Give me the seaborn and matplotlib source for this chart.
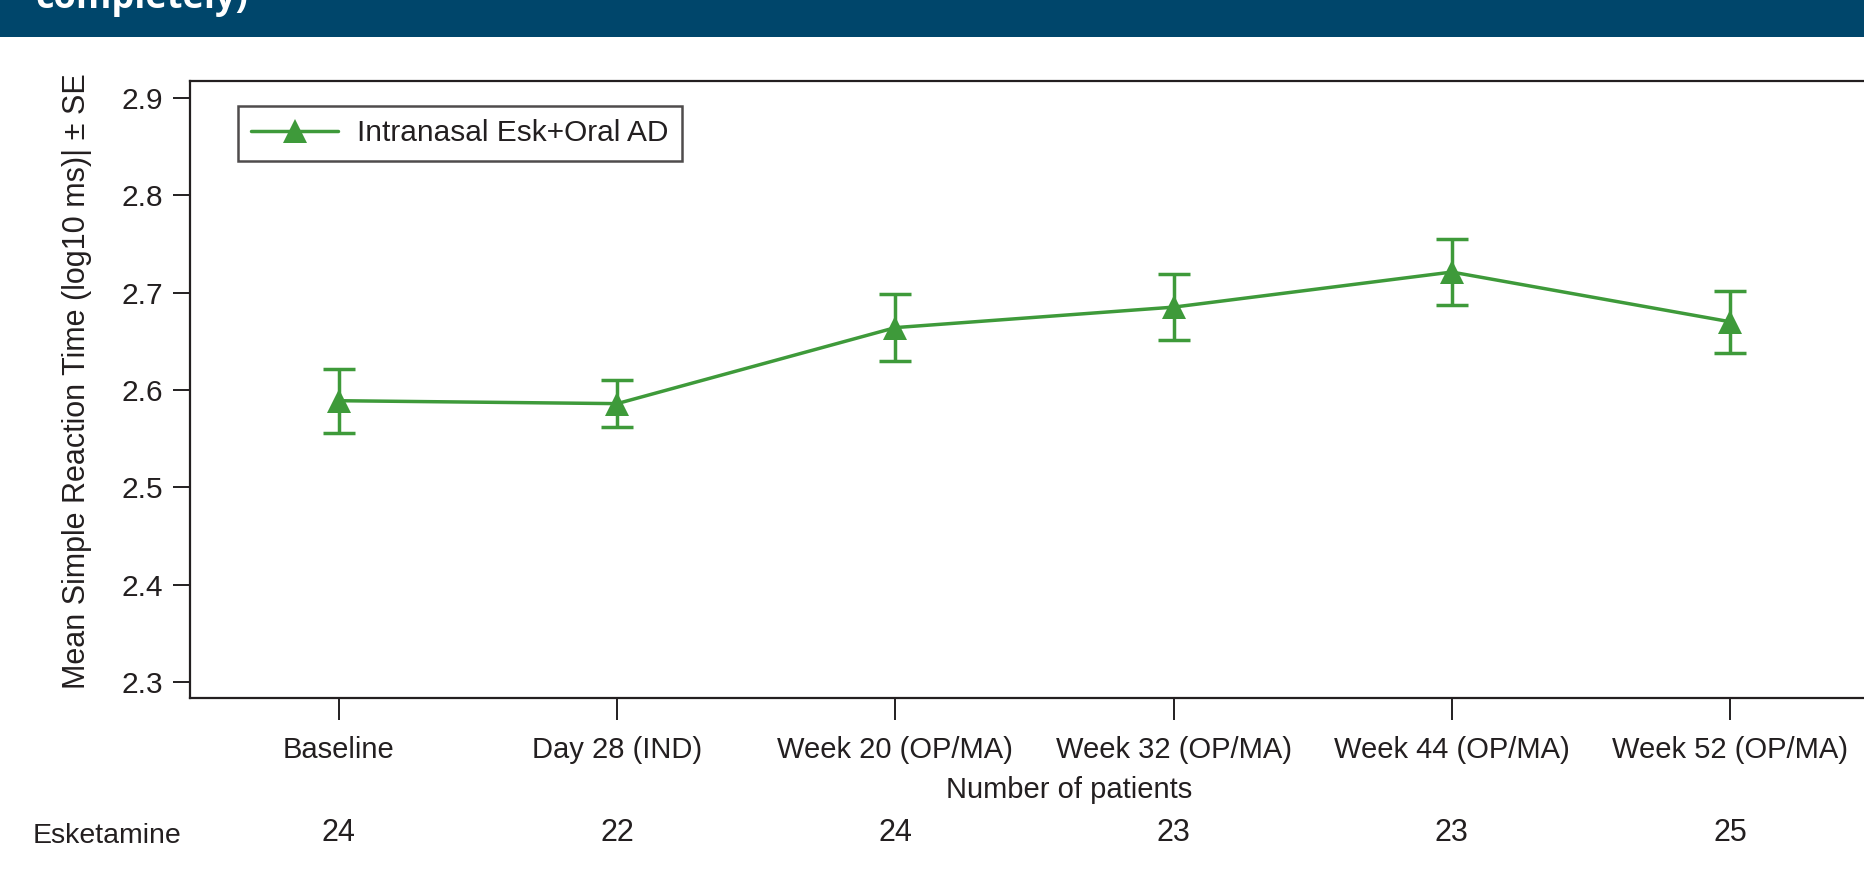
import matplotlib
matplotlib.use("Agg")
import matplotlib.pyplot as plt
import matplotlib.transforms as mtransforms
from matplotlib.patches import Rectangle
import seaborn as sns
import pandas as pd

# Visit schedule and summary statistics (mean ± SE of log10 reaction time)
visits = ["Baseline", "Day 28 (IND)", "Week 20 (OP/MA)", "Week 32 (OP/MA)",
          "Week 44 (OP/MA)", "Week 52 (OP/MA)"]
mean_rt = [2.589, 2.586, 2.664, 2.685, 2.721, 2.670]
se_rt = [0.033, 0.024, 0.034, 0.034, 0.034, 0.032]
n_patients = [24, 22, 24, 23, 23, 25]
series_label = "Intranasal Esk+Oral AD"
group_label = "Esketamine"
y_ticks = [2.3, 2.4, 2.5, 2.6, 2.7, 2.8, 2.9]

GREEN = "#3e9a3a"
INK = "#231f20"
BANNER = "#00466b"

sns.set_theme(style="white")
plt.rcParams["font.family"] = ["Liberation Sans", "DejaVu Sans"]
plt.rcParams["text.color"] = INK

W, H = 1865, 869
fig = plt.figure(figsize=(W / 100, H / 100), dpi=100)

# Header band with the tail of the slide title
fig.add_artist(Rectangle((0, 1 - 37 / H), 1, 37 / H, transform=fig.transFigure,
                         facecolor=BANNER, edgecolor="none", zorder=0))
fig.text(35 / W, 1 - 8 / H, "completely)", color="white", fontsize=26,
         fontweight="bold", family=["Open Sans", "DejaVu Sans"], va="baseline", ha="left")

# Plot area: the right edge runs past the figure border
ax_left, ax_bottom = 190 / W, (H - 698) / H
ax = fig.add_axes([ax_left, ax_bottom, 1707 / W, 617 / H])

df = pd.DataFrame({"pos": list(range(len(visits))), "mean": mean_rt, "se": se_rt})

ax.errorbar(df["pos"], df["mean"], yerr=df["se"], fmt="none", ecolor=GREEN,
            elinewidth=2.5, capsize=11.5, capthick=2.5, zorder=2)
sns.lineplot(data=df, x="pos", y="mean", ax=ax, color=GREEN, linewidth=2.5,
             marker="^", markersize=17, markeredgewidth=0, label=series_label,
             zorder=3)

ax.set_xlim(-0.535, 5.6)
ax.set_ylim(2.284, 2.917)
ax.set_xticks(range(len(visits)))
ax.set_xticklabels(visits)
ax.set_yticks(y_ticks)
ax.set_yticklabels([f"{v:.1f}" for v in y_ticks])
ax.set_xlabel("")
ax.set_ylabel("")

for side in ["left", "bottom", "top", "right"]:
    ax.spines[side].set_color(INK)
    ax.spines[side].set_linewidth(1.6)

ax.tick_params(axis="x", bottom=True, direction="out", length=15.5, width=1.4,
               color=INK, labelsize=21, pad=12, labelcolor=INK)
ax.tick_params(axis="y", left=True, direction="out", length=12.5, width=1.4,
               color=INK, labelsize=21.5, pad=7, labelcolor=INK)

leg = ax.legend(loc="upper left", bbox_to_anchor=(238 / W, 1 - 106 / H),
                bbox_transform=fig.transFigure, borderaxespad=0, fontsize=21.5,
                frameon=True, fancybox=False, handlelength=2.9, handletextpad=0.65,
                borderpad=0.45)
leg.get_frame().set_edgecolor(INK)
leg.get_frame().set_linewidth(1.8)

# Axis title drawn as free text
fig.text(77 / W, 1 - 381 / H, "Mean Simple Reaction Time (log10 ms)| ± SE",
         rotation=90, ha="center", va="center", fontsize=22)

# Patient counts under each visit
fig.text(1069 / W, 1 - 790 / H, "Number of patients", ha="center", va="center",
         fontsize=21)
fig.text(33 / W, 1 - 836 / H, group_label, ha="left", va="center", fontsize=20.5)
blend = mtransforms.blended_transform_factory(ax.transData, fig.transFigure)
for pos, n in zip(df["pos"], n_patients):
    ax.text(pos, 1 - 833 / H, str(n), transform=blend, ha="center", va="center",
            fontsize=22, clip_on=False)

fig.savefig("out.png", dpi=100)
